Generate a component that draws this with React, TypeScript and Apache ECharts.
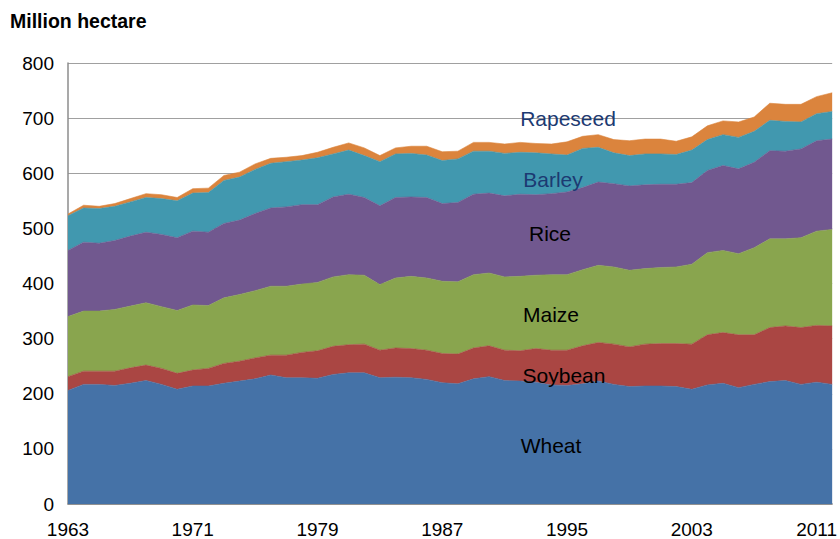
import React, { useEffect, useRef } from "react";
import * as echarts from "echarts";

const years = [
  "1963", "1964", "1965", "1966", "1967", "1968", "1969", "1970", "1971", "1972",
  "1973", "1974", "1975", "1976", "1977", "1978", "1979", "1980", "1981", "1982",
  "1983", "1984", "1985", "1986", "1987", "1988", "1989", "1990", "1991", "1992",
  "1993", "1994", "1995", "1996", "1997", "1998", "1999", "2000", "2001", "2002",
  "2003", "2004", "2005", "2006", "2007", "2008", "2009", "2010", "2011", "2012",
];

const wheat = [
  206, 217, 217, 215, 219, 224, 217, 208, 214, 214,
  219, 223, 227, 234, 229, 229, 228, 235, 238, 238,
  229, 230, 229, 226, 220, 218, 227, 231, 224, 223,
  221, 216, 215, 218, 223, 217, 213, 214, 214, 213,
  208, 216, 219, 211, 217, 222, 224, 217, 221, 217,
];

const soybean = [
  25, 24, 24, 26, 28, 28, 29, 29, 29, 32,
  36, 36, 38, 36, 41, 46, 50, 51, 51, 52,
  50, 53, 53, 53, 53, 54, 56, 56, 55, 55,
  61, 63, 64, 69, 70, 73, 72, 76, 77, 78,
  82, 91, 92, 96, 90, 98, 99, 103, 103, 106,
];

const maize = [
  109, 109, 109, 112, 112, 113, 112, 114, 118, 114,
  119, 121, 122, 125, 125, 124, 124, 126, 127, 125,
  119, 127, 131, 131, 131, 131, 133, 132, 133, 135,
  133, 137, 137, 138, 140, 140, 139, 137, 138, 139,
  145, 149, 149, 147, 158, 161, 158, 163, 171, 175,
];

const rice = [
  120, 125, 123, 125, 127, 128, 131, 132, 134, 133,
  135, 135, 140, 142, 144, 144, 141, 145, 146, 141,
  143, 146, 144, 146, 141, 144, 146, 145, 147, 149,
  146, 147, 150, 149, 151, 151, 153, 152, 151, 150,
  148, 149, 154, 154, 155, 160, 159, 161, 164, 164,
];

const barley = [
  63, 62, 63, 62, 62, 63, 65, 67, 69, 72,
  78, 78, 80, 81, 82, 81, 85, 78, 80, 76,
  80, 79, 79, 77, 78, 79, 78, 76, 77, 76,
  76, 72, 67, 71, 63, 56, 55, 56, 55, 54,
  59, 56, 56, 57, 56, 55, 54, 49, 49, 50,
];

const rapeseed = [
  3, 5, 4, 5, 6, 7, 7, 6, 8, 8,
  9, 9, 10, 9, 8, 8, 10, 12, 13, 14,
  11, 11, 13, 16, 16, 14, 16, 16, 17, 18,
  17, 18, 24, 22, 23, 24, 27, 27, 27, 24,
  24, 25, 25, 28, 26, 31, 31, 32, 31, 34,
];

const seriesNames = ["Wheat", "Soybean", "Maize", "Rice", "Barley", "Rapeseed"];
const seriesData = [wheat, soybean, maize, rice, barley, rapeseed];
const seriesColors = ["#4572A7", "#AA4643", "#89A54E", "#71588F", "#4198AF", "#DB843D"];

const FONT = "'Liberation Sans', Arial, Helvetica, sans-serif";

export default function App() {
  const ref = useRef<HTMLDivElement>(null);

  useEffect(() => {
    if (!ref.current) return;
    const chart = echarts.init(ref.current, undefined, { renderer: "svg" });
    const labelPos: Record<string, [number, number, string]> = {
      Rapeseed: [568, 118, "#1C3A72"],
      Barley: [553, 179, "#1C3A72"],
      Rice: [550, 233, "#000000"],
      Maize: [551, 314, "#000000"],
      Soybean: [564, 375, "#000000"],
      Wheat: [551, 445, "#000000"],
    };
    chart.setOption({
      animation: false,
      backgroundColor: "#ffffff",
      grid: { left: 68, right: 6, top: 63, bottom: 34, containLabel: false },
      xAxis: {
        type: "category",
        data: years,
        boundaryGap: false,
        axisLine: { show: true, lineStyle: { color: "#8c8c8c", width: 1.5 } },
        axisTick: { show: false },
        axisLabel: {
          interval: 7,
          fontSize: 19,
          fontFamily: FONT,
          color: "#000",
          margin: 16,
        },
        splitLine: { show: false },
      },
      yAxis: {
        type: "value",
        min: 0,
        max: 800,
        interval: 100,
        axisLine: { show: true, lineStyle: { color: "#8c8c8c", width: 1.5 } },
        axisTick: { show: false },
        axisLabel: {
          fontSize: 19,
          fontFamily: FONT,
          color: "#000",
          margin: 14,
        },
        splitLine: { show: true, lineStyle: { color: "#a0a0a0", width: 1.2 } },
      },
      series: seriesNames.map((name, i) => ({
        name,
        type: "line",
        stack: "total",
        data: seriesData[i],
        symbol: "none",
        showSymbol: false,
        lineStyle: { width: 0.6, color: seriesColors[i] },
        itemStyle: { color: seriesColors[i] },
        areaStyle: { color: seriesColors[i], opacity: 1 },
        z: 2,
      })),
      graphic: [
        {
          type: "text",
          left: 10,
          top: 11,
          style: {
            text: "Million hectare",
            font: `bold 19.5px ${FONT}`,
            fill: "#000",
          },
        },
        ...seriesNames.map((name) => ({
          type: "text",
          x: labelPos[name][0],
          y: labelPos[name][1],
          z: 10,
          style: {
            text: name,
            font: `21px ${FONT}`,
            fill: labelPos[name][2],
            align: "center",
            verticalAlign: "middle",
          },
        })),
      ],
    });
    return () => chart.dispose();
  }, []);

  return (
    <div
      ref={ref}
      style={{ position: "absolute", left: 0, top: 0, width: 840, height: 539 }}
    />
  );
}
